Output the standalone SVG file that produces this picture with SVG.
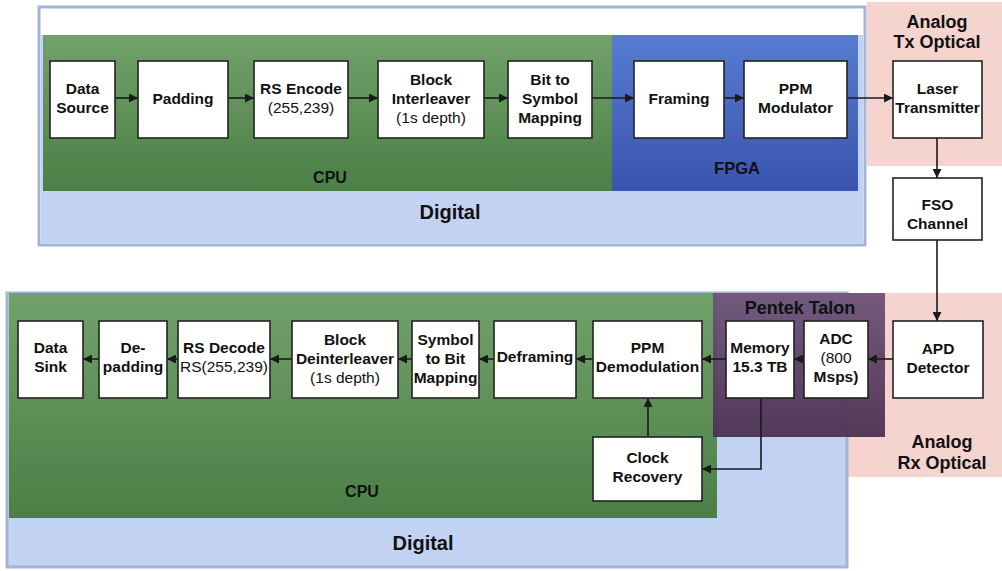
<svg xmlns="http://www.w3.org/2000/svg" width="1002" height="571" viewBox="0 0 1002 571">
<style>
.box{fill:#ffffff;stroke:#222222;stroke-width:1.6}
.t{font-family:"Liberation Sans",Arial,sans-serif;font-weight:bold;font-size:15.5px;fill:#111111;text-anchor:middle}
.lbl{font-family:"Liberation Sans",Arial,sans-serif;font-weight:bold;fill:#111111;text-anchor:middle}
.c{fill:none;stroke:#1a1a1a;stroke-width:1.6}
</style>
<defs>
<linearGradient id="gGreen" x1="0" y1="0" x2="0" y2="1"><stop offset="0" stop-color="#72a26b"/><stop offset="1" stop-color="#4b7f46"/></linearGradient>
<linearGradient id="gBlue" x1="0" y1="0" x2="0" y2="1"><stop offset="0" stop-color="#577cd2"/><stop offset="1" stop-color="#3a54ad"/></linearGradient>
<linearGradient id="gPurple" x1="0" y1="0" x2="0" y2="1"><stop offset="0" stop-color="#6e5379" stop-opacity="0.95"/><stop offset="1" stop-color="#4c3152" stop-opacity="0.95"/></linearGradient>
<marker id="ah" viewBox="0 0 10 10" refX="10" refY="5" markerWidth="9" markerHeight="9" markerUnits="userSpaceOnUse" orient="auto"><path d="M0,0 L10,5 L0,10 z" fill="#1a1a1a"/></marker>
</defs>
<rect width="1002" height="571" fill="#ffffff"/>
<g id="regions">
<rect x="867" y="2" width="135" height="164" fill="#f5d3cf"/>
<rect x="39" y="7" width="826" height="238" fill="#ffffff" stroke="#a5b4d6" stroke-width="3"/>
<rect x="41" y="35" width="822" height="208" fill="#c2d2f2"/>
<rect x="43" y="35" width="569" height="156" fill="url(#gGreen)"/>
<rect x="612" y="35" width="246" height="156" fill="url(#gBlue)"/>
<rect x="840" y="293" width="162" height="184" fill="#f5d3cf"/>
<rect x="7" y="293" width="840" height="274" fill="#c2d2f2" stroke="#a5b4d6" stroke-width="3"/>
<rect x="9" y="293" width="708" height="225" fill="url(#gGreen)"/>
<rect x="713" y="293" width="172" height="144" fill="url(#gPurple)"/>
<text class="lbl" x="330" y="183" font-size="16">CPU</text>
<text class="lbl" x="737" y="174" font-size="16.5">FPGA</text>
<text class="lbl" x="450" y="219" font-size="20">Digital</text>
<text class="lbl" x="937" y="28" font-size="18">Analog</text>
<text class="lbl" x="937" y="48" font-size="18">Tx Optical</text>
<text class="lbl" x="800" y="314" font-size="18">Pentek Talon</text>
<text class="lbl" x="942" y="448" font-size="18">Analog</text>
<text class="lbl" x="942" y="469" font-size="18">Rx Optical</text>
<text class="lbl" x="362" y="497" font-size="16">CPU</text>
<text class="lbl" x="423" y="550" font-size="20">Digital</text>
</g>
<g id="connectors">
<line class="c" x1="115" y1="98" x2="138" y2="98" marker-end="url(#ah)"/>
<line class="c" x1="228" y1="98" x2="254" y2="98" marker-end="url(#ah)"/>
<line class="c" x1="348" y1="98" x2="378" y2="98" marker-end="url(#ah)"/>
<line class="c" x1="484" y1="98" x2="508" y2="98" marker-end="url(#ah)"/>
<line class="c" x1="592" y1="98" x2="634" y2="98" marker-end="url(#ah)"/>
<line class="c" x1="724" y1="98" x2="744" y2="98" marker-end="url(#ah)"/>
<line class="c" x1="847" y1="98" x2="893" y2="98" marker-end="url(#ah)"/>
<line class="c" x1="937" y1="138" x2="937" y2="178" marker-end="url(#ah)"/>
<line class="c" x1="937" y1="240" x2="937" y2="321" marker-end="url(#ah)"/>
<line class="c" x1="893" y1="359" x2="868" y2="359" marker-end="url(#ah)"/>
<line class="c" x1="804" y1="359" x2="794" y2="359" marker-end="url(#ah)"/>
<line class="c" x1="726" y1="359" x2="702" y2="359" marker-end="url(#ah)"/>
<line class="c" x1="593" y1="359" x2="576" y2="359" marker-end="url(#ah)"/>
<line class="c" x1="494" y1="359" x2="479" y2="359" marker-end="url(#ah)"/>
<line class="c" x1="412" y1="359" x2="398" y2="359" marker-end="url(#ah)"/>
<line class="c" x1="292" y1="359" x2="270" y2="359" marker-end="url(#ah)"/>
<line class="c" x1="178" y1="359" x2="167" y2="359" marker-end="url(#ah)"/>
<line class="c" x1="99" y1="359" x2="83" y2="359" marker-end="url(#ah)"/>
<path class="c" d="M761 398 V469 H702" marker-end="url(#ah)"/>
<line class="c" x1="648" y1="437" x2="648" y2="398" marker-end="url(#ah)"/>
</g>
<g id="data-source"><rect class="box" x="50" y="61" width="65" height="77"/><text class="t" x="82.5" y="94">Data<tspan x="82.5" dy="19">Source</tspan></text></g>
<g id="padding"><rect class="box" x="138" y="61" width="90" height="77"/><text class="t" x="183" y="104">Padding</text></g>
<g id="rs-encode"><rect class="box" x="254" y="61" width="94" height="77"/><text class="t" x="301" y="94">RS Encode<tspan x="301" dy="19" font-weight="normal">(255,239)</tspan></text></g>
<g id="block-interleaver"><rect class="box" x="378" y="61" width="106" height="77"/><text class="t" x="431" y="85">Block<tspan x="431" dy="19">Interleaver</tspan><tspan x="431" dy="19" font-weight="normal">(1s depth)</tspan></text></g>
<g id="bit-to-symbol"><rect class="box" x="508" y="61" width="84" height="77"/><text class="t" x="550" y="85">Bit to<tspan x="550" dy="19">Symbol</tspan><tspan x="550" dy="19">Mapping</tspan></text></g>
<g id="framing"><rect class="box" x="634" y="61" width="90" height="77"/><text class="t" x="679" y="104">Framing</text></g>
<g id="ppm-modulator"><rect class="box" x="744" y="61" width="103" height="77"/><text class="t" x="795.5" y="94">PPM<tspan x="795.5" dy="19">Modulator</tspan></text></g>
<g id="laser-transmitter"><rect class="box" x="893" y="61" width="89" height="77"/><text class="t" x="937.5" y="94">Laser<tspan x="937.5" dy="19">Transmitter</tspan></text></g>
<g id="fso-channel"><rect class="box" x="893" y="178" width="89" height="62"/><text class="t" x="937.5" y="210">FSO<tspan x="937.5" dy="19">Channel</tspan></text></g>
<g id="apd-detector"><rect class="box" x="893" y="321" width="90" height="77"/><text class="t" x="938" y="354">APD<tspan x="938" dy="19">Detector</tspan></text></g>
<g id="adc"><rect class="box" x="804" y="321" width="64" height="77"/><text class="t" x="836" y="344">ADC<tspan x="836" dy="19" font-weight="normal">(800</tspan><tspan x="836" dy="19">Msps)</tspan></text></g>
<g id="memory"><rect class="box" x="726" y="321" width="68" height="77"/><text class="t" x="760" y="353">Memory<tspan x="760" dy="19">15.3 TB</tspan></text></g>
<g id="ppm-demodulation"><rect class="box" x="593" y="321" width="109" height="77"/><text class="t" x="647.5" y="353">PPM<tspan x="647.5" dy="19">Demodulation</tspan></text></g>
<g id="clock-recovery"><rect class="box" x="593" y="437" width="109" height="64"/><text class="t" x="647.5" y="463">Clock<tspan x="647.5" dy="19">Recovery</tspan></text></g>
<g id="deframing"><rect class="box" x="494" y="321" width="82" height="77"/><text class="t" x="535" y="362">Deframing</text></g>
<g id="symbol-to-bit"><rect class="box" x="412" y="321" width="67" height="77"/><text class="t" x="445.5" y="345">Symbol<tspan x="445.5" dy="19">to Bit</tspan><tspan x="445.5" dy="19">Mapping</tspan></text></g>
<g id="block-deinterleaver"><rect class="box" x="292" y="321" width="106" height="77"/><text class="t" x="345" y="345">Block<tspan x="345" dy="19">Deinterleaver</tspan><tspan x="345" dy="19" font-weight="normal">(1s depth)</tspan></text></g>
<g id="rs-decode"><rect class="box" x="178" y="321" width="92" height="77"/><text class="t" x="224" y="353">RS Decode<tspan x="224" dy="19" font-weight="normal">RS(255,239)</tspan></text></g>
<g id="de-padding"><rect class="box" x="99" y="321" width="68" height="77"/><text class="t" x="133" y="353">De-<tspan x="133" dy="19">padding</tspan></text></g>
<g id="data-sink"><rect class="box" x="18" y="321" width="65" height="77"/><text class="t" x="50.5" y="353">Data<tspan x="50.5" dy="19">Sink</tspan></text></g>
</svg>
